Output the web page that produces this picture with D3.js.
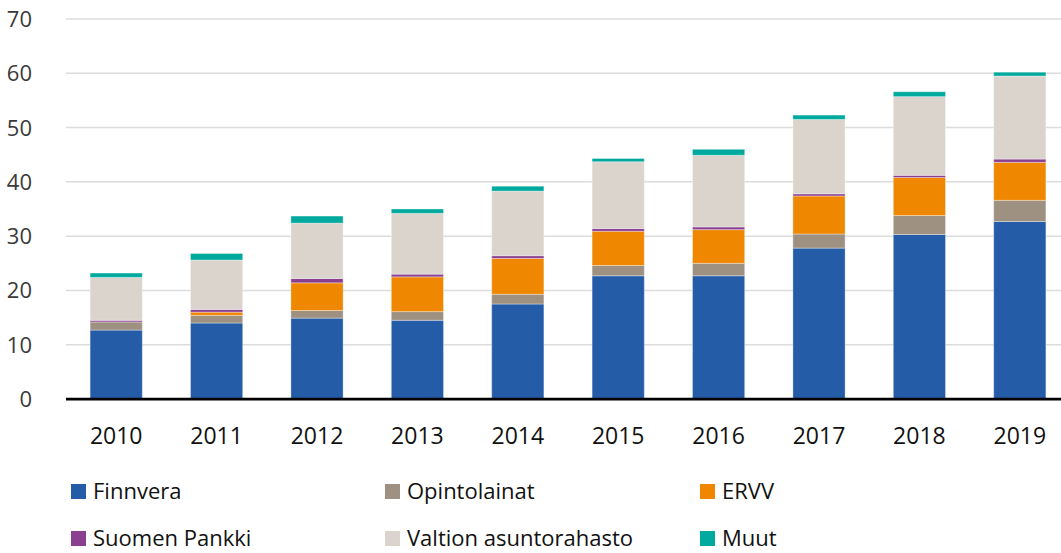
<!DOCTYPE html>
<html>
<head>
<meta charset="utf-8">
<script src="https://cdn.jsdelivr.net/npm/d3@7"></script>
<style>
  body { margin: 0; background: #fff; }
  svg { display: block; font-family: "Open Sans", sans-serif; }
</style>
</head>
<body>
<div id="chart"></div>
<script>
const years = ["2010", "2011", "2012", "2013", "2014", "2015", "2016", "2017", "2018", "2019"];
const seriesNames = ["Finnvera", "Opintolainat", "ERVV", "Suomen Pankki", "Valtion asuntorahasto", "Muut"];
const finnvera     = [12.7, 14.0, 14.9, 14.5, 17.5, 22.7, 22.7, 27.8, 30.3, 32.7];
const opintolainat = [1.5, 1.4, 1.4, 1.6, 1.8, 1.9, 2.3, 2.6, 3.5, 3.9];
const ervv         = [0, 0.6, 5.1, 6.4, 6.6, 6.3, 6.2, 7.0, 7.0, 7.0];
const suomenPankki = [0.3, 0.5, 0.8, 0.5, 0.5, 0.5, 0.5, 0.4, 0.4, 0.6];
const valtion      = [7.9, 9.1, 10.2, 11.2, 11.9, 12.3, 13.2, 13.7, 14.5, 15.3];
const muut         = [0.8, 1.2, 1.3, 0.8, 0.9, 0.6, 1.1, 0.8, 0.9, 0.7];
const yTicks = [0, 10, 20, 30, 40, 50, 60, 70];
const colors = ["#255ca8", "#9e9182", "#f08700", "#8a3f91", "#dad4cd", "#00a99d"];

const width = 1061, height = 553;
const svg = d3.select("#chart").append("svg")
    .attr("width", width)
    .attr("height", height);

const allSeries = [finnvera, opintolainat, ervv, suomenPankki, valtion, muut];
const rows = years.map((y, i) => {
    const r = { year: y };
    seriesNames.forEach((n, k) => r[n] = allSeries[k][i]);
    return r;
});
const stacked = d3.stack().keys(seriesNames)(rows);

const x = d3.scaleBand()
    .domain(years)
    .range([66, 1070])
    .paddingInner(0.48)
    .paddingOuter(0.24);

const y = d3.scaleLinear()
    .domain([0, 70])
    .range([399, 19]);

// gridlines
svg.append("g")
    .selectAll("line")
    .data(yTicks.filter(d => d > 0))
    .enter()
    .append("line")
    .attr("x1", 66)
    .attr("x2", width)
    .attr("y1", d => y(d))
    .attr("y2", d => y(d))
    .attr("stroke", "#dcdcdc")
    .attr("stroke-width", 1.5);

// y labels
svg.append("g")
    .selectAll("text")
    .data(yTicks)
    .enter()
    .append("text")
    .attr("x", 32)
    .attr("y", d => y(d) + 8)
    .attr("text-anchor", "end")
    .attr("fill", "#3a3a3a")
    .style("font-size", "22px")
    .text(d => d);

// bars
svg.append("g")
    .selectAll("g")
    .data(stacked)
    .enter()
    .append("g")
    .attr("fill", (d, i) => colors[i])
    .selectAll("rect")
    .data(d => d)
    .enter()
    .append("rect")
    .attr("x", d => x(d.data.year))
    .attr("y", d => y(d[1]))
    .attr("width", x.bandwidth())
    .attr("height", d => Math.max(0, y(d[0]) - y(d[1])))
    .attr("stroke", "#ffffff")
    .attr("stroke-opacity", 0.35)
    .attr("stroke-width", 1);

// baseline
svg.append("line")
    .attr("x1", 66).attr("x2", width)
    .attr("y1", y(0) + 1.5).attr("y2", y(0) + 1.5)
    .attr("stroke", "#aaa")
    .attr("stroke-width", 1);
svg.append("line")
    .attr("x1", 66).attr("x2", width)
    .attr("y1", y(0)).attr("y2", y(0))
    .attr("stroke", "#000")
    .attr("stroke-width", 2.5);

// x labels
svg.append("g")
    .selectAll("text")
    .data(years)
    .enter()
    .append("text")
    .attr("x", d => x(d) + x.bandwidth() / 2)
    .attr("y", 444)
    .attr("text-anchor", "middle")
    .attr("fill", "#111")
    .style("font-size", "23px")
    .text(d => d);

// legend
const legendCols = [71, 385, 700];
const legendRows = [484, 531];
const legend = svg.append("g")
    .selectAll("g")
    .data(seriesNames)
    .enter()
    .append("g")
    .attr("transform", (d, i) => `translate(${legendCols[i % 3]}, ${legendRows[Math.floor(i / 3)]})`);

legend.append("rect")
    .attr("width", 15)
    .attr("height", 15)
    .attr("fill", (d, i) => colors[i]);

legend.append("text")
    .attr("x", 22)
    .attr("y", 15)
    .attr("fill", "#111")
    .style("font-size", "22px")
    .text(d => d);
</script>
</body>
</html>
